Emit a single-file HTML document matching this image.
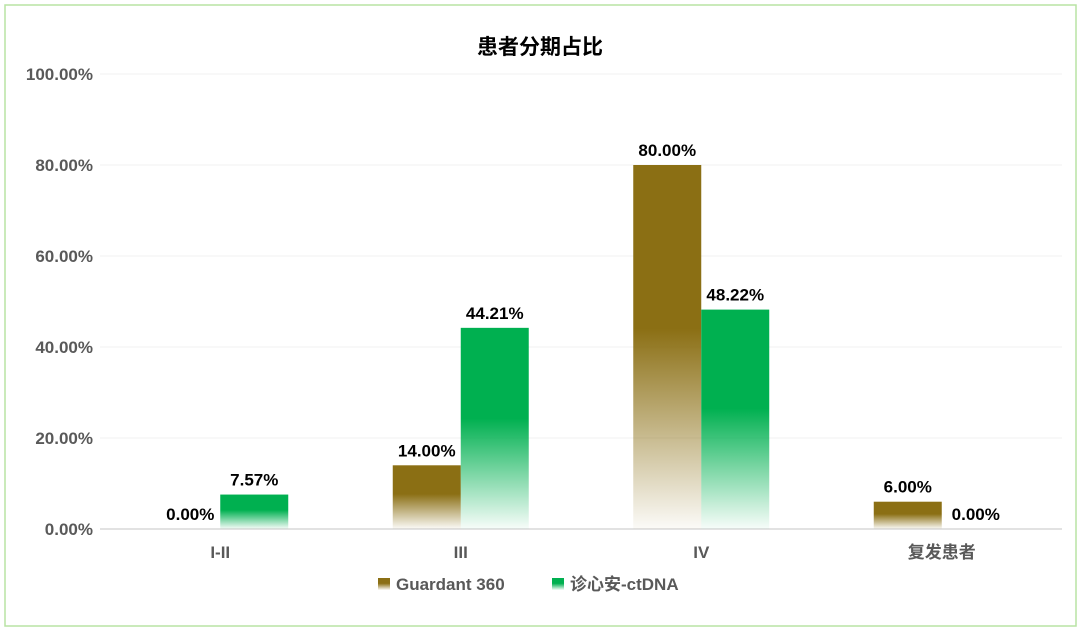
<!DOCTYPE html>
<html><head><meta charset="utf-8"><style>
body{margin:0;background:#fff;}
svg{display:block;font-family:"Liberation Sans","Noto Sans CJK SC",sans-serif;}
</style></head><body>
<svg id="c" width="1080" height="631" viewBox="0 0 1080 631">
<defs>
<linearGradient id="gb" x1="0" y1="0" x2="0" y2="1"><stop offset="0" stop-color="#8B6F14"/><stop offset="0.45" stop-color="#8B6F14"/><stop offset="1" stop-color="#8B6F14" stop-opacity="0.03"/></linearGradient>
<linearGradient id="gg" x1="0" y1="0" x2="0" y2="1"><stop offset="0" stop-color="#00B050"/><stop offset="0.45" stop-color="#00B050"/><stop offset="1" stop-color="#00B050" stop-opacity="0.03"/></linearGradient>
</defs>
<rect x="5" y="5" width="1071" height="621" fill="#fff" stroke="#b8e3a4" stroke-width="1.5"/>
<text x="540" y="54" text-anchor="middle" font-size="21" font-weight="bold" fill="#000">患者分期占比</text>
<g id="grid"></g><g id="bars"></g>
<g>
<rect x="378" y="578" width="12" height="12" fill="url(#gb)"/>
<text x="396" y="590" font-size="17" font-weight="bold" fill="#595959">Guardant 360</text>
<rect x="552" y="578" width="12" height="12" fill="url(#gg)"/>
<text x="570" y="590" font-size="17" font-weight="bold" fill="#595959">诊心安-ctDNA</text>
</g>
</svg>
<script>
const categories=["I-II","III","IV","复发患者"];
const guardant=[0,14,80,6];
const zhenxinan=[7.57,44.21,48.22,0];
const ticks=[0,20,40,60,80,100];
const NS="http://www.w3.org/2000/svg";
const x0=100,x1=1062,y0=529,y1=74;
const y=v=>y0-(v/100)*(y0-y1);
const bw=(x1-x0)/categories.length;
const cx=i=>x0+bw*(i+0.5);
function mk(t,a,p){const e=document.createElementNS(NS,t);for(const k in a)e.setAttribute(k,a[k]);p.appendChild(e);return e;}
const grid=document.getElementById('grid'),bars=document.getElementById('bars');
ticks.forEach(t=>{
 const l=mk('line',{x1:x0,x2:x1,y1:y(t),y2:y(t),stroke:t===0?'#d9d9d9':'#f0f0f0','stroke-width':t===0?1.5:1},grid);
 
 
 const tx=mk('text',{x:93,y:y(t)+6,'text-anchor':'end','font-size':17,'font-weight':'bold',fill:'#595959'},grid);
 tx.textContent=t.toFixed(2)+'%';
 
 
});
categories.forEach((c,i)=>{
 const tx=mk('text',{x:cx(i),y:558,'text-anchor':'middle','font-size':17,'font-weight':'bold',fill:'#595959'},grid);
 tx.textContent=c;
 
 
 [[guardant,'url(#gb)',-68,'bar-guardant'],[zhenxinan,'url(#gg)',0,'bar-zhenxinan']].forEach(([s,f,off,n])=>{
  const v=s[i],bx=cx(i)+off;
  if(v>0){const r=mk('rect',{x:bx,y:y(v),width:68,height:y0-y(v),fill:f},bars);
  
  }
  const lb=mk('text',{x:bx+34-(v===0&&off<0?-4:0),y:y(v)-9,'text-anchor':'middle','font-size':17,'font-weight':'bold',fill:'#000'},bars);
  lb.textContent=v.toFixed(2)+'%';
  
  
 });
});
</script>
</body></html>
